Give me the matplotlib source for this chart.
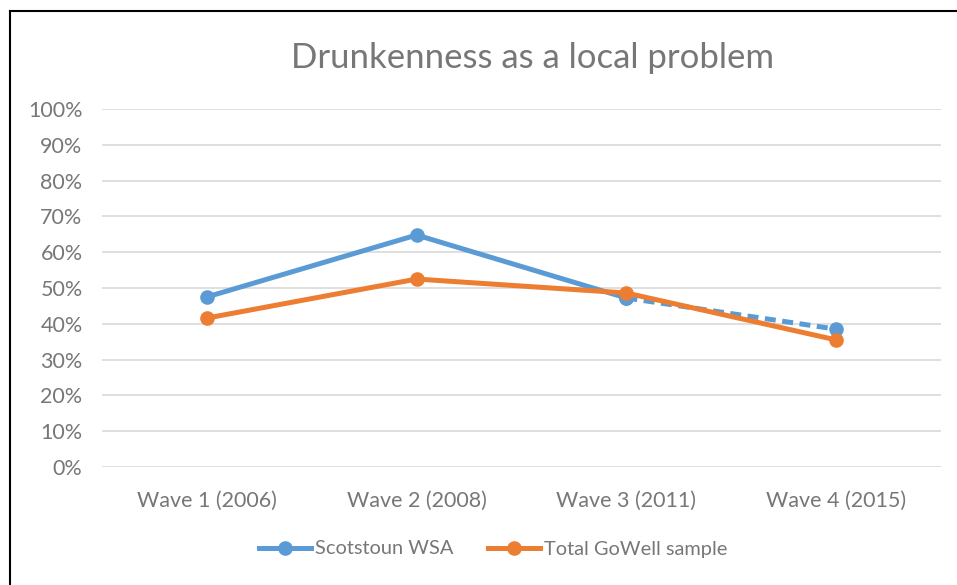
import matplotlib
matplotlib.use("Agg")
import matplotlib.pyplot as plt
from matplotlib.lines import Line2D
from matplotlib.ticker import PercentFormatter

categories = ["Wave 1 (2006)", "Wave 2 (2008)", "Wave 3 (2011)", "Wave 4 (2015)"]
scotstoun = [0.475, 0.648, 0.472, 0.385]
gowell = [0.416, 0.525, 0.486, 0.355]
yticks = [0, 0.1, 0.2, 0.3, 0.4, 0.5, 0.6, 0.7, 0.8, 0.9, 1.0]

plt.rcParams['font.family'] = ['Lato', 'DejaVu Sans']
TXT = '#777777'
BLUE = '#5B9BD5'
ORANGE = '#ED7D31'

fig = plt.figure(figsize=(9.57, 5.85), dpi=100)
ax = fig.add_axes([102/957, 1-467/585, (941-102)/957, (467-109)/585])

x = list(range(len(categories)))
lw = 3.6
ms = 9.5
ax.plot(x[:3], scotstoun[:3], color=BLUE, lw=lw, marker='o', ms=ms, zorder=3,
        solid_capstyle='round')
ax.plot(x[2:], scotstoun[2:], color=BLUE, lw=lw, ls=(0, (2.2, 1.3)), marker='o', ms=ms,
        zorder=3)
ax.plot(x, gowell, color=ORANGE, lw=lw, marker='o', ms=ms, zorder=4,
        solid_capstyle='round')

ax.set_xlim(-0.5, 3.5)
ax.set_ylim(0, 1.0)
ax.set_yticks(yticks)
ax.yaxis.set_major_formatter(PercentFormatter(1.0, decimals=0))
ax.set_xticks(x)
ax.set_xticklabels(categories)
ax.grid(axis='y', color='#D9D9D9', lw=1.2)
ax.set_axisbelow(True)
for s in ax.spines.values():
    s.set_visible(False)
ax.tick_params(axis='both', length=0, colors=TXT, labelsize=15.5)
ax.tick_params(axis='y', pad=14)
ax.tick_params(axis='x', pad=17)

fig.text(533/957, 1-58/585, "Drunkenness as a local problem", ha='center', va='center',
         fontsize=25, color=TXT)

handles = [Line2D([], [], color=BLUE, lw=lw, marker='o', ms=ms),
           Line2D([], [], color=ORANGE, lw=lw, marker='o', ms=ms)]
fig.legend(handles, ["Scotstoun WSA", "Total GoWell sample"], loc='center',
           bbox_to_anchor=(493/957, 1-549/585), ncol=2, frameon=False,
           fontsize=14.4, labelcolor=TXT, handlelength=2.6, handletextpad=0.2,
           columnspacing=1.7)

fig.add_artist(Line2D([9.5/957, 9.5/957], [0, 1-11/585], color='black', lw=1.5,
                      transform=fig.transFigure))
fig.add_artist(Line2D([9.5/957, 1], [1-11/585, 1-11/585], color='black', lw=1.5,
                      transform=fig.transFigure))

fig.savefig("out.png", dpi=100)
